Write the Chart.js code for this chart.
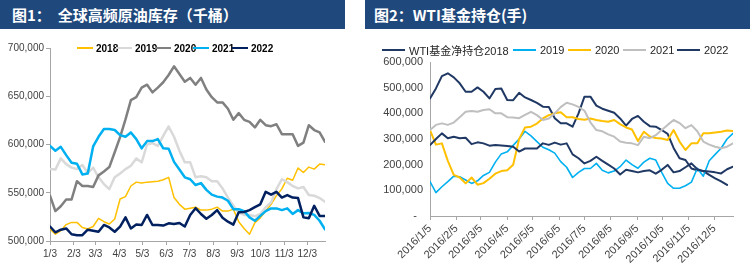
<!DOCTYPE html>
<html><head><meta charset="utf-8">
<script src="https://cdn.jsdelivr.net/npm/chart.js@4.4.1/dist/chart.umd.min.js"></script>
<style>
html,body{margin:0;padding:0;background:#fff;}
#wrap{position:relative;width:750px;height:273px;overflow:hidden;background:#fff;}
.bar{position:absolute;top:0;height:29px;background:#1F487C;color:#fff;font-family:"Noto Sans CJK SC",sans-serif;font-weight:bold;font-size:15px;line-height:29px;white-space:pre;box-sizing:border-box;}
#bar1{left:0;width:345px;padding-left:12px;}
#bar2{left:365px;width:385px;padding-left:9px;}
canvas{position:absolute;top:0;}
#c1{left:0;}
#c2{left:365px;}
.lg{position:absolute;display:flex;align-items:center;white-space:nowrap;height:14px;}
.lg .ln{display:inline-block;}
.lgL{font-family:"Liberation Sans Narrow","Arial Narrow",sans-serif;font-weight:bold;font-size:10px;color:#000;}
.lgR{font-family:"Liberation Sans","Noto Sans CJK SC",sans-serif;font-size:11px;color:#262626;}
</style></head>
<body>
<div id="wrap">
  <canvas id="c1" width="345" height="273"></canvas>
  <canvas id="c2" width="385" height="273"></canvas>
  <div class="bar" id="bar1">图1：  全球高频原油库存（千桶）</div>
  <div class="bar" id="bar2">图2：WTI基金持仓(手)</div>
</div>
<script>
// ---------- Left chart: global high-frequency crude inventory (kbbl), weekly ----------
const leftNames = ['2018','2019','2020','2021','2022'];
const leftColors = ['#FFC000','#D9D9D9','#808080','#00B0F0','#002060'];
const leftWidths = [1.5,2.5,2.5,2.5,2.5];
const left2018 = [512400,507000,510700,517000,519300,519300,514000,512400,515000,523500,520000,517600,522800,543500,546000,557000,561000,560000,561000,561500,562000,563500,566000,545000,538000,533000,534000,535000,532000,532000,533000,535000,531000,531000,533000,520000,513000,507000,519000,524000,531000,538000,547000,554000,565000,563000,575600,571000,576600,574500,579700,579000];
const left2019 = [574500,574000,585600,579700,576000,574500,578700,570400,576000,566000,559000,553800,566000,570000,574500,578000,585600,581500,600000,601400,598600,609000,618700,608000,593500,581500,581500,566000,567000,566000,562000,562000,554500,545000,536500,529700,527000,527000,525600,528000,535000,540000,553800,564000,561000,557000,554500,556000,547600,547000,544500,540700];
const left2020 = [546900,531000,536000,543000,543000,562000,557000,557000,556000,568000,572000,576600,592000,607600,626000,646000,649000,659000,662000,654000,659000,664500,672000,681000,673000,665000,669000,662000,669000,657000,649000,643600,643600,637000,625600,632500,625600,623500,617700,625600,620000,619000,621000,610700,610700,610700,598600,602000,620000,615000,612500,602800];
const left2021 = [598600,593500,597600,589000,581000,580000,569000,570000,598000,608000,616000,616000,615000,609700,608000,612500,605600,596000,603500,603500,605600,596000,595700,582000,574000,566000,564000,558000,560000,553000,548000,546000,545000,541700,533000,533000,531000,524500,521000,526000,531000,533800,533800,532000,533800,528000,532000,528700,529000,527000,521000,512000];
const left2022 = [515000,509000,511700,513000,507000,506000,506000,511700,510700,509600,516600,514000,509600,515000,524500,513000,517000,516600,527000,516600,516600,516000,518300,517600,518700,515000,527000,534000,528000,523000,527000,532000,524000,520000,517000,529700,530000,532000,535000,538000,551000,548000,551000,545000,547600,545000,544500,524500,523500,536500,526000,526000];
const leftTickDays = [0,31,59,90,120,151,181,212,243,273,304,334];
const leftTickLabels = ['1/3','2/3','3/3','4/3','5/3','6/3','7/3','8/3','9/3','10/3','11/3','12/3'];
const leftYTicks = [500000,550000,600000,650000,700000];

// ---------- Right chart: WTI managed money net position (contracts), weekly ----------
const rightNames = ['WTI基金净持仓2018','2019','2020','2021','2022'];
const rightColors = ['#203864','#00B0F0','#FFC000','#BFBFBF','#203864'];
const rightWidths = [2,1.6,2,2,2];
const right2018 = [458000,497000,545000,556000,540000,517000,484000,484000,501000,484000,458000,495000,497000,452000,451000,480000,462000,452000,441000,426000,425000,381000,361000,361000,348000,400000,465000,465000,430000,418000,410000,402000,380000,352000,378000,390000,367000,350000,348000,335000,320000,265000,225000,218000,185000,178000,175000,160000,147000,135000,121000];
const right2019 = [134000,91000,114000,134000,155000,153000,140000,127000,137000,158000,170000,210000,242000,250000,275000,300000,330000,312000,290000,268000,258000,245000,212000,190000,150000,170000,185000,185000,205000,178000,168000,175000,192000,218000,200000,186000,210000,225000,218000,170000,127000,108000,108000,118000,132000,186000,155000,215000,240000,264000,300000,322000];
const right2020 = [335000,278000,283000,215000,160000,150000,127000,150000,122000,128000,145000,165000,175000,178000,200000,300000,345000,348000,360000,380000,393000,400000,404000,385000,385000,378000,375000,380000,374000,370000,367000,374000,358000,345000,337000,292000,328000,310000,304000,302000,296000,335000,290000,257000,283000,283000,322000,322000,325000,328000,333000,331000];
const right2021 = [335000,355000,361000,355000,364000,385000,406000,409000,406000,413000,416000,400000,400000,385000,384000,381000,394000,406000,393000,374000,380000,400000,424000,441000,435000,425000,410000,365000,335000,330000,318000,309000,290000,285000,283000,276000,309000,303000,315000,335000,355000,374000,362000,342000,354000,330000,290000,278000,270000,264000,270000,283000];
const right2022 = [276000,300000,322000,303000,309000,303000,305000,280000,287000,283000,274000,277000,275000,273000,270000,251000,263000,263000,263000,283000,277000,286000,278000,283000,240000,225000,205000,215000,231000,215000,200000,185000,162000,180000,175000,170000,175000,178000,165000,180000,199000,170000,175000,190000,205000,182000,175000,173000,170000,166000,182000,192000];
const rightTickDays = [0,31,60,91,121,152,182,213,244,274,305,335];
const rightTickLabels = ['2016/1/5','2016/2/5','2016/3/5','2016/4/5','2016/5/5','2016/6/5','2016/7/5','2016/8/5','2016/9/5','2016/10/5','2016/11/5','2016/12/5'];
const rightYTicks = [0,100000,200000,300000,400000,500000,600000];

// weekly observation offsets in days from the first week
const weekDays = [];
for (let i = 0; i < 52; i++) weekDays.push(i * 7);

function toPts(vals){ return vals.map((v,i)=>({x: weekDays[i], y: v})); }

const AX = '#A6A6A6';
const narrow = '"Liberation Sans Narrow","Arial Narrow",sans-serif';
const arial = '"Liberation Sans",Arial,sans-serif';

function makeDatasets(series, colors, widths){
  return series.map((s,k)=>({
    data: toPts(s), borderColor: colors[k], borderWidth: widths[k],
    pointRadius: 0, tension: 0, fill: false, order: series.length - 1 - k,
    borderJoinStyle: 'round', borderCapStyle: 'round'
  }));
}

new Chart(document.getElementById('c1'), {
  type: 'line',
  data: { datasets: makeDatasets([left2018,left2019,left2020,left2021,left2022], leftColors, leftWidths) },
  options: {
    responsive:false, animation:false, devicePixelRatio:1,
    layout:{padding:{top:48,right:20,left:0,bottom:0}},
    plugins:{legend:{display:false}, tooltip:{enabled:false}},
    scales:{
      x:{type:'linear', min:0, max:357,
        afterBuildTicks:s=>{s.ticks = leftTickDays.map(v=>({value:v}));},
        afterFit:s=>{s.height = 32;},
        ticks:{autoSkip:false, maxRotation:0, minRotation:0, padding:3,
          callback:(v,i)=>leftTickLabels[i], color:'#404040', font:{family:narrow, size:10}},
        grid:{drawOnChartArea:false, drawTicks:true, tickLength:4, color:AX},
        border:{color:AX, width:1}},
      y:{min:500000, max:700000,
        afterBuildTicks:s=>{s.ticks = leftYTicks.map(v=>({value:v}));},
        afterFit:s=>{s.width = 50;},
        ticks:{padding:2, color:'#404040', font:{family:narrow, size:10},
          callback:v=>Number(v).toLocaleString('en-US')},
        grid:{drawOnChartArea:false, drawTicks:true, tickLength:4, color:AX},
        border:{color:AX, width:1}}
    }
  }
});

new Chart(document.getElementById('c2'), {
  type: 'line',
  data: { datasets: makeDatasets([right2018,right2019,right2020,right2021,right2022], rightColors, rightWidths) },
  options: {
    responsive:false, animation:false, devicePixelRatio:1,
    layout:{padding:{top:62,right:17,left:0,bottom:0}},
    plugins:{legend:{display:false}, tooltip:{enabled:false}},
    scales:{
      x:{type:'linear', min:0, max:357,
        afterBuildTicks:s=>{s.ticks = rightTickDays.map(v=>({value:v}));},
        afterFit:s=>{s.height = 57;},
        ticks:{autoSkip:false, maxRotation:45, minRotation:45, padding:2,
          callback:(v,i)=>rightTickLabels[i], color:'#404040', font:{family:arial, size:11}},
        grid:{drawOnChartArea:false, drawTicks:true, tickLength:4, color:AX},
        border:{color:AX, width:1}},
      y:{min:0, max:600000,
        afterBuildTicks:s=>{s.ticks = rightYTicks.map(v=>({value:v}));},
        afterFit:s=>{s.width = 65;},
        ticks:{padding:7, color:'#404040', font:{family:arial, size:11},
          callback:v=> v === 0 ? '-  ' : Number(v).toLocaleString('en-US')},
        grid:{drawOnChartArea:false, drawTicks:false, color:AX},
        border:{color:AX, width:1}}
    }
  }
});

// ---------- HTML legends ----------
const wrap = document.getElementById('wrap');
function legend(names, colors, lefts, cls, top, lineW, gap, lineH){
  names.forEach((n,k)=>{
    const d = document.createElement('div');
    d.className = 'lg ' + cls;
    d.style.left = lefts[k] + 'px';
    d.style.top = top + 'px';
    const l = document.createElement('span');
    l.className = 'ln';
    l.style.width = lineW + 'px';
    l.style.height = lineH + 'px';
    l.style.background = colors[k];
    l.style.marginRight = gap + 'px';
    const t = document.createElement('span');
    t.textContent = n;
    d.appendChild(l); d.appendChild(t);
    wrap.appendChild(d);
  });
}
legend(leftNames, leftColors, [77,116,155,193,232], 'lgL', 41, 16, 3, 2);
legend(rightNames, rightColors, [382,513,568,623,677], 'lgR', 43, 23, 4, 2);
</script>
</body></html>
